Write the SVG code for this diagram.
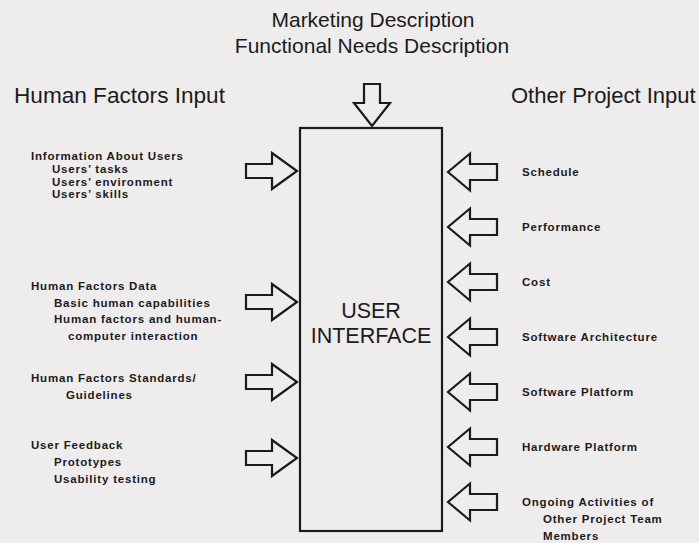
<svg xmlns="http://www.w3.org/2000/svg" xmlns:xlink="http://www.w3.org/1999/xlink" width="699" height="543" viewBox="0 0 699 543">
  <style>
    .head { font-family: "Liberation Sans", Arial, sans-serif; fill: #1b1b1b; }
    .small { font-family: "Liberation Sans", Arial, sans-serif; font-weight: bold; font-size: 11.5px; letter-spacing: 0.8px; fill: #1b1b1b; }
    .arrow { fill: none; stroke: #1b1b1b; stroke-width: 2.2; stroke-linejoin: miter; }
    .box { fill: none; stroke: #1b1b1b; stroke-width: 2.2; }
  </style>
  <defs>
    <!-- block arrow pointing right, tip at origin -->
    <path id="arrowR" class="arrow" d="M -51,-7 H -25 V -18 L 0,0 L -25,18 V 7 H -51 Z"/>
    <!-- block arrow pointing left, tip at origin -->
    <path id="arrowL" class="arrow" d="M 49,-8 H 22 V -18.5 L 0,0 L 22,18.5 V 8 H 49 Z"/>
  </defs>

  <rect width="699" height="543" fill="#efecee"/>

  <!-- top inputs -->
  <g id="top-input" class="head" font-size="21" text-anchor="middle">
    <text x="373" y="27">Marketing Description</text>
    <text x="372" y="53">Functional Needs Description</text>
  </g>

  <g id="hf-title" class="head" font-size="22.6">
    <text x="14" y="103">Human Factors Input</text>
  </g>
  <g id="op-title" class="head" font-size="22">
    <text x="511" y="103">Other Project Input</text>
  </g>

  <!-- central node -->
  <g id="user-interface">
    <rect class="box" x="300" y="128" width="142" height="403"/>
    <text class="head" font-size="21.5" text-anchor="middle" x="371" y="318">USER</text>
    <text class="head" font-size="21.5" text-anchor="middle" x="371" y="343">INTERFACE</text>
  </g>

  <!-- human factors inputs -->
  <g id="info-users" class="small">
    <text x="31" y="160">Information About Users</text>
    <text x="52" y="173">Users’ tasks</text>
    <text x="52" y="185.5">Users’ environment</text>
    <text x="52" y="198">Users’ skills</text>
  </g>
  <g id="hf-data" class="small">
    <text x="31" y="290">Human Factors Data</text>
    <text x="54" y="306.5">Basic human capabilities</text>
    <text x="54" y="323">Human factors and human-</text>
    <text x="68" y="340">computer interaction</text>
  </g>
  <g id="hf-standards" class="small">
    <text x="31" y="382">Human Factors Standards/</text>
    <text x="66" y="399">Guidelines</text>
  </g>
  <g id="user-feedback" class="small">
    <text x="31" y="449">User Feedback</text>
    <text x="54" y="466">Prototypes</text>
    <text x="54" y="483">Usability testing</text>
  </g>

  <!-- other project inputs -->
  <g id="schedule" class="small"><text x="522" y="175.5">Schedule</text></g>
  <g id="performance" class="small"><text x="522" y="231">Performance</text></g>
  <g id="cost" class="small"><text x="522" y="286">Cost</text></g>
  <g id="sw-architecture" class="small"><text x="522" y="341">Software Architecture</text></g>
  <g id="sw-platform" class="small"><text x="522" y="396">Software Platform</text></g>
  <g id="hw-platform" class="small"><text x="522" y="451">Hardware Platform</text></g>
  <g id="ongoing" class="small">
    <text x="522" y="506">Ongoing Activities of</text>
    <text x="543" y="523">Other Project Team</text>
    <text x="543" y="540">Members</text>
  </g>

  <!-- connectors: block arrows into the user interface -->
  <g id="connectors">
    <path class="arrow" d="M 364,84 H 380 V 103 H 390 L 372,126 L 354,103 H 364 Z"/>
    <use xlink:href="#arrowR" transform="translate(297,171)"/>
    <use xlink:href="#arrowR" transform="translate(297,302)"/>
    <use xlink:href="#arrowR" transform="translate(297,382)"/>
    <use xlink:href="#arrowR" transform="translate(297,458)"/>
    <use xlink:href="#arrowL" transform="translate(448,172)"/>
    <use xlink:href="#arrowL" transform="translate(448,227)"/>
    <use xlink:href="#arrowL" transform="translate(448,282)"/>
    <use xlink:href="#arrowL" transform="translate(448,337)"/>
    <use xlink:href="#arrowL" transform="translate(448,392)"/>
    <use xlink:href="#arrowL" transform="translate(448,447)"/>
    <use xlink:href="#arrowL" transform="translate(448,502)"/>
  </g>
</svg>
